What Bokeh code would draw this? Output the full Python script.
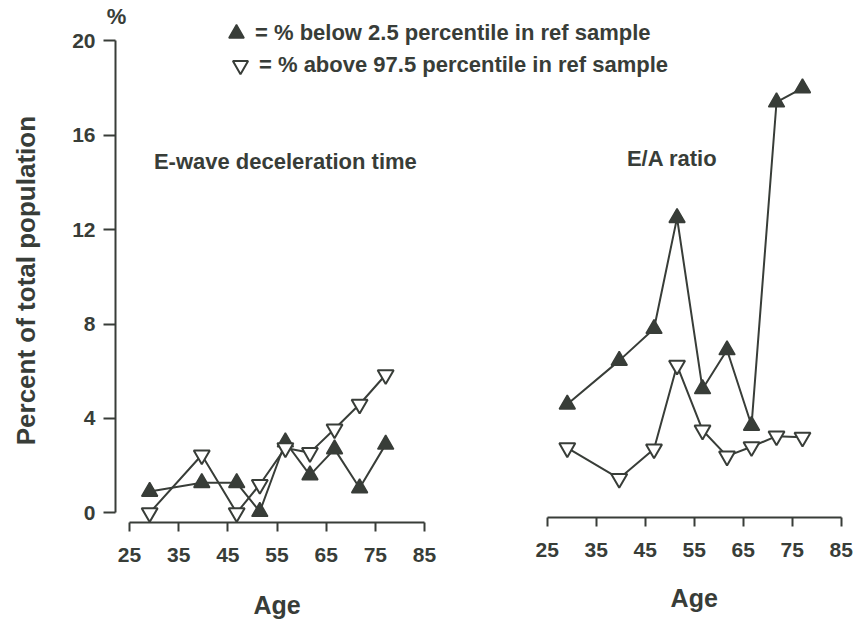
import math
from bokeh.plotting import figure
from bokeh.models import Range1d, LinearAxis, Label, Legend, LegendItem, FixedTicker
from bokeh.embed import file_html
from bokeh.resources import INLINE

# ---- data ----
age = [29.1, 39.7, 46.8, 51.5, 56.7, 61.7, 66.7, 71.8, 77.1]
edt_below = [0.9, 1.27, 1.27, 0.05, 3.0, 1.6, 2.7, 1.05, 2.9]
edt_above = [0.0, 2.45, 0.0, 1.2, 2.75, 2.55, 3.55, 4.6, 5.85]
ea_below = [4.6, 6.45, 7.8, 12.5, 5.25, 6.9, 3.7, 17.4, 18.0]
ea_above = [2.75, 1.45, 2.7, 6.25, 3.5, 2.4, 2.8, 3.25, 3.2]
age_ticks = [25, 35, 45, 55, 65, 75, 85]
pct_ticks = [0, 4, 8, 12, 16, 20]
label_below = "= % below 2.5 percentile in ref sample"
label_above = "= % above 97.5 percentile in ref sample"

C = "#383d38"
FONT = "Liberation Sans"

# frame covers the whole canvas; axes are placed at fixed locations
p = figure(width=858, height=623, output_backend="svg", toolbar_location=None,
           x_range=Range1d(-1.236, 173.26), y_range=Range1d(-4.69, 21.71),
           x_axis_type=None, y_axis_type=None,
           min_border_left=0, min_border_right=0, min_border_top=0, min_border_bottom=0)
p.extra_x_ranges = {"right": Range1d(-86.57, 88.53)}
p.grid.visible = False
p.outline_line_color = None
p.background_fill_color = "white"
p.border_fill_color = "white"


def style_axis(ax):
    ax.axis_line_color = C
    ax.axis_line_width = 2
    ax.major_tick_line_color = C
    ax.major_tick_line_width = 2
    ax.major_tick_in = 0
    ax.minor_tick_line_color = None
    ax.major_label_text_color = C
    ax.major_label_text_font = FONT
    ax.major_label_text_font_style = "bold"
    ax.major_label_text_font_size = "21px"


yax = LinearAxis(ticker=FixedTicker(ticks=pct_ticks), bounds=(0, 20), fixed_location=22.15)
style_axis(yax)
yax.major_tick_out = 12
yax.major_label_standoff = 8
p.add_layout(yax, "left")

xl = LinearAxis(ticker=FixedTicker(ticks=age_ticks), bounds=(25, 85), fixed_location=-0.43)
style_axis(xl)
xl.major_tick_out = 9
xl.major_label_standoff = 16
p.add_layout(xl, "below")

xr = LinearAxis(ticker=FixedTicker(ticks=age_ticks), bounds=(25, 85),
                x_range_name="right", fixed_location=-0.2)
style_axis(xr)
xr.major_tick_out = 9
xr.major_label_standoff = 16
p.add_layout(xr, "below")

# ---- left panel: E-wave deceleration time ----
p.line(age, edt_below, line_color=C, line_width=2)
p.line(age, edt_above, line_color=C, line_width=2)
r_below = p.scatter(age, edt_below, marker="triangle", size=16, fill_color=C, line_color=C, line_width=1.5)
r_above = p.scatter(age, edt_above, marker="inverted_triangle", size=16, fill_color="white",
                    line_color=C, line_width=2)

# ---- right panel: E/A ratio ----
p.line(age, ea_below, line_color=C, line_width=2, x_range_name="right")
p.line(age, ea_above, line_color=C, line_width=2, x_range_name="right")
p.scatter(age, ea_below, marker="triangle", size=16, fill_color=C, line_color=C, line_width=1.5,
          x_range_name="right")
p.scatter(age, ea_above, marker="inverted_triangle", size=16, fill_color="white",
          line_color=C, line_width=2, x_range_name="right")

# ---- texts ----
common = dict(text_color=C, text_font=FONT, text_font_style="bold",
              text_align="center", text_baseline="middle")
p.add_layout(Label(x=56.7, y=14.88, text="E-wave deceleration time", text_font_size="22px", **common))
p.add_layout(Label(x=50.5, y=15.0, text="E/A ratio", text_font_size="22px", x_range_name="right", **common))
p.add_layout(Label(x=22.35, y=21.05, text="%", text_font_size="22px", **common))
p.add_layout(Label(x=4.0, y=9.84, text="Percent of total population", angle=math.pi / 2,
                   text_font_size="26px", **common))
p.add_layout(Label(x=55, y=-3.89, text="Age", text_font_size="25px", **common))
p.add_layout(Label(x=55, y=-3.62, text="Age", text_font_size="25px", x_range_name="right", **common))

legend_style = dict(orientation="vertical", glyph_width=38, glyph_height=38, label_standoff=-11,
                    padding=0, margin=0, border_line_color=None, background_fill_alpha=0,
                    label_text_color=C, label_text_font=FONT, label_text_font_style="bold",
                    label_text_font_size="22px")
leg1 = Legend(items=[LegendItem(label=label_below, renderers=[r_below])],
              location=(217, 571), **legend_style)
leg2 = Legend(items=[LegendItem(label=label_above, renderers=[r_above])],
              location=(221, 539), **legend_style)
p.add_layout(leg1, "center")
p.add_layout(leg2, "center")

open("out.html", "w").write(file_html(p, INLINE))
